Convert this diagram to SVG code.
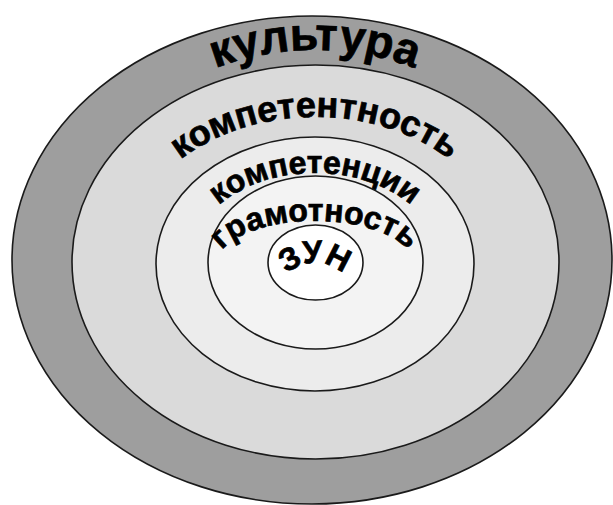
<svg xmlns="http://www.w3.org/2000/svg" width="613" height="505" viewBox="0 0 613 505">
  <style>
    .ring { stroke: #1a1a1a; stroke-width: 1.6; }
    .lbl { font-family: "Liberation Sans", Arial, sans-serif; font-weight: bold; fill: #000; stroke: #000; stroke-width: 0.7; }
  </style>
  <defs>
    <path id="p-kult" d="M 35,330 A 280,280 0 0 1 595,330"/>
    <path id="p-kompetentnost" d="M 125,262 A 190,145 0 0 1 505,262"/>
    <path id="p-kompetencii" d="M 190,262 A 125,89 0 0 1 440,262"/>
    <path id="p-gramotnost" d="M 217,264 A 98,43 0 0 1 413,264"/>
    <path id="p-zun" d="M 274,304 A 41,41 0 0 1 356,304"/>
  </defs>
  <rect width="613" height="505" fill="#ffffff"/>
  <g id="kultura">
    <ellipse class="ring" cx="312" cy="260" rx="300" ry="244" fill="#9e9e9e"/>
    <text class="lbl" font-size="46"><textPath href="#p-kult" startOffset="50%" text-anchor="middle">культура</textPath></text>
  </g>
  <g id="kompetentnost">
    <ellipse class="ring" cx="315.5" cy="262" rx="243.5" ry="197" fill="#dadada"/>
    <text class="lbl" font-size="36"><textPath href="#p-kompetentnost" startOffset="50%" text-anchor="middle">компетентность</textPath></text>
  </g>
  <g id="kompetencii">
    <ellipse class="ring" cx="315" cy="264" rx="159" ry="127" fill="#ececec"/>
    <text class="lbl" font-size="32"><textPath href="#p-kompetencii" startOffset="50%" text-anchor="middle">компетенции</textPath></text>
  </g>
  <g id="gramotnost">
    <ellipse class="ring" cx="315.5" cy="262.5" rx="107.5" ry="86.5" fill="#f3f3f3"/>
    <text class="lbl" font-size="32"><textPath href="#p-gramotnost" startOffset="50%" text-anchor="middle">грамотность</textPath></text>
  </g>
  <g id="zun">
    <ellipse class="ring" cx="315.5" cy="262.5" rx="47.5" ry="37.5" fill="#ffffff"/>
    <text class="lbl" font-size="32"><textPath href="#p-zun" startOffset="50%" text-anchor="middle">ЗУН</textPath></text>
  </g>
  <g id="connectors"/>
</svg>
